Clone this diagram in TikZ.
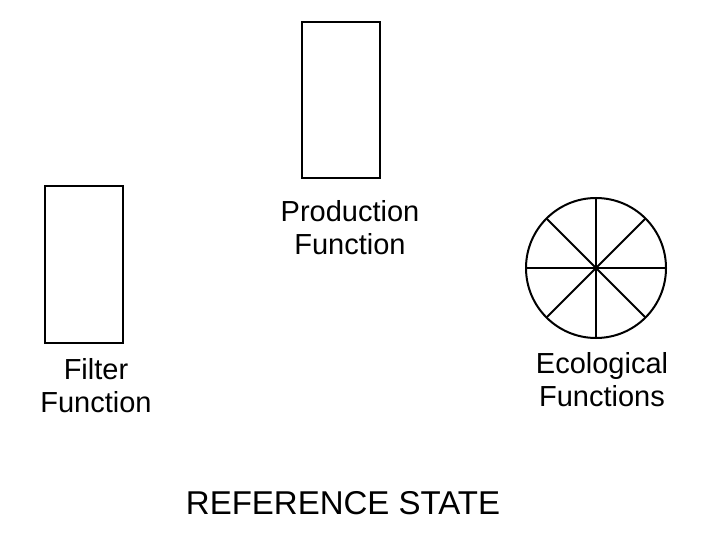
\documentclass[tikz,border=0pt]{standalone}
\usepackage{fontspec}
\setmainfont{Liberation Sans}
\begin{document}
\begin{tikzpicture}[x=1pt,y=-1pt,
    box/.style={draw,line width=2pt},
    lbl/.style={align=center,font=\fontsize{29}{33}\selectfont}]
    \useasboundingbox (0,0) rectangle (720,540);
    % storage boxes
    \draw[box] (302,22) rectangle (380,178);
    \draw[box] (45,186) rectangle (123,343);
    % wheel
    \draw[box] (596,268) circle (70);
    \foreach \a in {0,45,...,135}
        \draw[line width=2pt] (596,268) ++(\a:70) -- ++(\a+180:140);
    \node[lbl] (prod) at (350,228) {Production\\Function};
    \node[lbl] (filt) at (96,386) {Filter\\Function};
    \node[lbl] (eco) at (602,380) {Ecological\\Functions};
    \node[font=\fontsize{33}{38}\selectfont] (state) at (343,503) {REFERENCE STATE};
\end{tikzpicture}
\end{document}
